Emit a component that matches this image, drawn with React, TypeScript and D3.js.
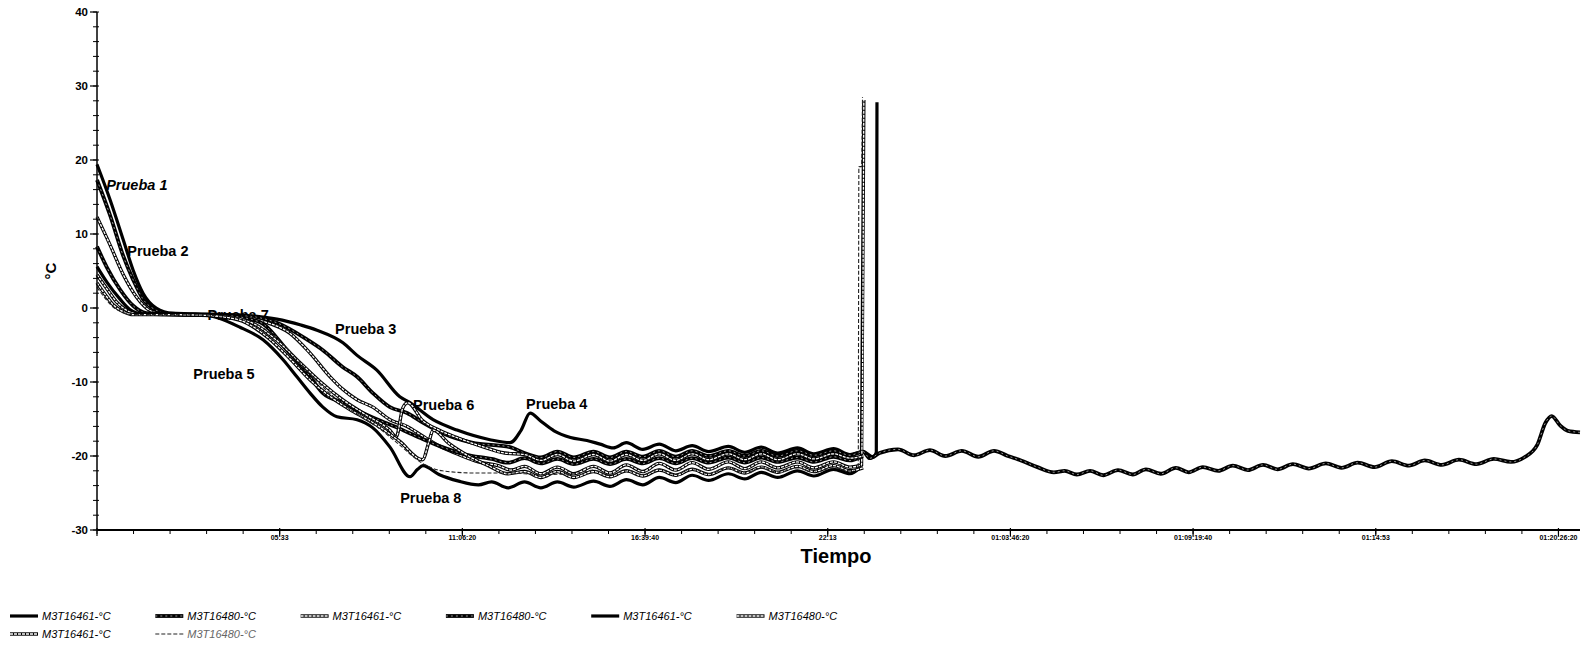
import React from "react";
import * as d3 from "d3";

// time in hours since start, temperature in °C
const prueba1 = [
  [0, 19.4], [0.4, 14.6], [0.8, 9.2], [1.1, 5.1], [1.4, 2.0], [1.8, 0.0], [2.3, -0.7], [3.0, -0.8],
  [4.0, -0.9], [4.8, -1.1], [5.47, -1.5], [6.2, -2.3], [6.69, -3.0], [7.48, -4.7], [7.91, -6.4],
  [8.51, -8.4], [9.21, -12.0], [9.52, -12.8], [10.22, -15.1], [10.95, -16.5], [11.95, -17.8],
  [12.56, -18.2], [12.9, -16.5], [13.17, -14.2], [13.5, -15.3], [13.9, -16.6], [14.4, -17.5],
  [14.9, -17.9], [15.3, -18.4], [15.7, -18.9], [16.1, -18.2], [16.6, -19.1], [17.1, -18.4],
  [17.6, -19.3], [18.1, -18.6], [18.6, -19.4], [19.2, -18.7], [19.7, -19.5], [20.2, -18.8],
  [20.7, -19.6], [21.3, -18.9], [21.8, -19.7], [22.4, -19.0], [22.9, -19.8], [23.3, -19.4],
  [23.6, -20.1], [23.7, -19.5], [23.72, 27.8],
];

const prueba2 = [
  [0, 17.3], [0.4, 12.5], [0.8, 7.0], [1.1, 3.8], [1.4, 1.2], [1.8, -0.3], [2.2, -0.8], [3.2, -0.9],
  [4.3, -1.0], [5.47, -2.0], [6.4, -4.3], [6.87, -5.7], [7.48, -8.0], [7.91, -9.3], [8.39, -11.5],
  [8.91, -13.4], [9.43, -14.2], [9.91, -15.5], [10.5, -16.9], [11.4, -18.2], [12.56, -18.8],
  [13.0, -19.6], [13.5, -20.2], [14.0, -19.4], [14.5, -20.2], [15.1, -19.4], [15.6, -20.2],
  [16.1, -19.4], [16.6, -20.1], [17.1, -19.3], [17.6, -20.1], [18.1, -19.3], [18.6, -20.0],
  [19.2, -19.3], [19.7, -20.0], [20.2, -19.3], [20.7, -20.0], [21.3, -19.3], [21.8, -19.9],
  [22.4, -19.3], [22.9, -19.9], [23.3, -19.4], [23.5, -20.3], [23.8, -19.6],
];

// the one sensor left in the freezer after the others were taken out
const tail = [
  [24.36, -19.1], [24.85, -19.9], [25.33, -19.2], [25.8, -20.0], [26.3, -19.3], [26.8, -20.1],
  [27.28, -19.3], [27.7, -20.0], [28.1, -20.6], [28.6, -21.5], [29.1, -22.2], [29.43, -22.0],
  [29.8, -22.5], [30.2, -22.0], [30.6, -22.6], [31.05, -21.9], [31.5, -22.5], [31.9, -21.8],
  [32.35, -22.4], [32.81, -21.6], [33.2, -22.2], [33.63, -21.5], [34.1, -22.0], [34.54, -21.3],
  [35.0, -21.9], [35.46, -21.2], [35.9, -21.8], [36.37, -21.1], [36.85, -21.7], [37.37, -21.0],
  [37.85, -21.6], [38.34, -20.9], [38.85, -21.5], [39.38, -20.7], [39.9, -21.3], [40.38, -20.6],
  [40.9, -21.2], [41.42, -20.5], [41.95, -21.1], [42.48, -20.4], [43.0, -20.8], [43.4, -20.2],
  [43.8, -18.5], [44.05, -15.5], [44.24, -14.6], [44.5, -15.9], [44.73, -16.6], [45.1, -16.8],
];

const prueba3 = [
  [0, 12.3], [0.4, 8.5], [0.8, 4.5], [1.2, 1.5], [1.6, -0.3], [2.0, -0.8], [3.0, -0.9], [4.0, -1.0],
  [5.05, -1.8], [5.86, -3.4], [6.48, -6.1], [7.09, -9.3], [7.48, -11.0], [7.91, -12.4], [8.39, -13.4],
  [8.91, -15.1], [9.43, -16.0], [9.9, -17.3], [10.4, -18.6], [11.0, -19.8], [11.6, -20.8],
  [12.2, -21.3], [12.6, -21.9], [13.0, -21.4], [13.5, -22.4], [14.0, -21.5], [14.5, -22.4],
  [15.1, -21.4], [15.6, -22.3], [16.1, -21.2], [16.6, -22.1], [17.1, -21.0], [17.6, -21.9],
  [18.1, -20.9], [18.6, -21.8], [19.2, -20.8], [19.7, -21.7], [20.2, -20.8], [20.7, -21.6],
  [21.3, -20.8], [21.8, -21.6], [22.4, -20.8], [22.9, -21.5], [23.25, -21.2], [23.32, 28.1],
];

const prueba4 = [
  [0, 8.3], [0.3, 5.5], [0.7, 2.5], [1.1, 0.3], [1.5, -0.7], [2.5, -0.9], [3.8, -1.0], [4.9, -1.8],
  [5.86, -6.1], [6.4, -8.8], [6.87, -11.5], [7.48, -12.8], [8.0, -14.0], [8.6, -15.2], [9.2, -16.3],
  [9.8, -17.5], [10.5, -18.8], [11.2, -19.8], [12.0, -20.4], [12.5, -20.9], [13.0, -20.3],
  [13.5, -21.0], [14.0, -20.4], [14.5, -21.1], [15.1, -20.4], [15.6, -21.1], [16.1, -20.4],
  [16.6, -21.0], [17.1, -20.3], [17.6, -21.0], [18.1, -20.3], [18.6, -20.9], [19.2, -20.2],
  [19.7, -20.9], [20.2, -20.2], [20.7, -20.8], [21.3, -20.2], [21.8, -20.8], [22.4, -20.1],
  [22.9, -20.6], [23.2, -20.2],
];

const prueba5 = [
  [0, 5.6], [0.3, 3.5], [0.7, 1.2], [1.0, -0.2], [1.4, -0.8], [2.3, -0.9], [3.14, -0.9], [4.35, -2.6],
  [5.05, -4.3], [5.66, -7.0], [6.08, -9.3], [6.48, -11.5], [6.87, -13.4], [7.3, -14.7], [7.91, -15.1],
  [8.39, -16.2], [8.91, -18.8], [9.52, -22.8], [9.75, -21.8], [9.91, -21.3], [10.4, -22.5],
  [11.0, -23.4], [11.6, -23.9], [12.0, -23.5], [12.5, -24.3], [13.0, -23.5], [13.5, -24.3],
  [14.0, -23.5], [14.5, -24.2], [15.1, -23.4], [15.6, -24.1], [16.1, -23.2], [16.6, -23.9],
  [17.1, -22.9], [17.6, -23.6], [18.1, -22.6], [18.6, -23.3], [19.2, -22.4], [19.7, -23.1],
  [20.2, -22.2], [20.7, -22.9], [21.3, -22.0], [21.8, -22.7], [22.4, -21.8], [22.9, -22.4],
  [23.2, -21.6],
];

const prueba6 = [
  [0, 4.5], [0.3, 2.6], [0.6, 0.8], [0.9, -0.3], [1.2, -0.8], [2.4, -0.9], [3.5, -1.0], [4.6, -1.8],
  [5.5, -4.5], [6.2, -7.5], [6.8, -10.0], [7.5, -12.5], [8.2, -14.5], [8.9, -16.5], [9.1, -17.4],
  [9.3, -13.5], [9.45, -12.8], [9.9, -15.2], [10.4, -16.5], [11.0, -17.6], [11.7, -18.7],
  [12.4, -19.6], [13.0, -19.8], [13.5, -20.6], [14.0, -19.8], [14.5, -20.7], [15.1, -19.8],
  [15.6, -20.7], [16.1, -19.8], [16.6, -20.6], [17.1, -19.7], [17.6, -20.6], [18.1, -19.7],
  [18.6, -20.5], [19.2, -19.7], [19.7, -20.5], [20.2, -19.7], [20.7, -20.5], [21.3, -19.7],
  [21.8, -20.4], [22.4, -19.7], [22.9, -20.3], [23.3, -20.0],
];

const prueba7 = [
  [0, 3.4], [0.25, 1.8], [0.5, 0.4], [0.8, -0.5], [1.1, -0.9], [2.2, -0.9], [3.3, -1.0], [4.3, -1.6],
  [5.2, -4.0], [5.9, -7.0], [6.5, -9.8], [7.1, -12.0], [7.8, -14.0], [8.5, -15.8], [9.2, -18.0],
  [9.9, -20.5], [10.1, -18.0], [10.22, -16.5], [10.7, -18.3], [11.3, -20.0], [11.9, -21.3],
  [12.5, -22.4], [13.0, -22.1], [13.5, -22.9], [14.0, -22.1], [14.5, -22.9], [15.1, -22.1],
  [15.6, -22.8], [16.1, -22.0], [16.6, -22.7], [17.1, -21.9], [17.6, -22.6], [18.1, -21.8],
  [18.6, -22.5], [19.2, -21.6], [19.7, -22.3], [20.2, -21.5], [20.7, -22.2], [21.3, -21.4],
  [21.8, -22.1], [22.4, -21.3], [22.9, -22.0], [23.3, -21.6],
];

const prueba8 = [
  [0, 2.8], [0.25, 1.3], [0.5, 0.1], [0.8, -0.6], [1.1, -0.9], [2.3, -0.9], [3.5, -1.0], [4.4, -1.4],
  [5.3, -3.5], [6.0, -6.5], [6.6, -9.5], [7.2, -12.0], [7.8, -14.0], [8.5, -16.0], [9.2, -18.5],
  [9.9, -21.0], [10.5, -22.0], [11.5, -22.3], [12.5, -22.3], [13.5, -22.5], [14.5, -22.4],
  [15.1, -21.9], [15.6, -22.6], [16.1, -21.9], [16.6, -22.5], [17.1, -21.8], [17.6, -22.5],
  [18.1, -21.7], [18.6, -22.4], [19.2, -21.6], [19.7, -22.3], [20.2, -21.6], [20.7, -22.2],
  [21.3, -21.6], [21.8, -22.2], [22.4, -21.6], [22.9, -22.0], [23.15, -21.5], [23.17, 19.1],
  [23.25, 19.1], [23.28, 28.5],
];

const sensorNames = [
  "M3T16461-°C", "M3T16480-°C", "M3T16461-°C", "M3T16480-°C",
  "M3T16461-°C", "M3T16480-°C", "M3T16461-°C", "M3T16480-°C",
];
const lineKinds = ["solid", "hollow", "outlined", "hollow", "solid", "outlined", "outlined", "dashed"];

const yTickValues = [40, 30, 20, 10, 0, -10, -20, -30];
const xTickLabels = ["", "05:33", "11:06:20", "16:39:40", "22:13", "01:03:46:20", "01:09:19:40", "01:14:53", "01:20:26:20"];
const tickStep = 5.5556; // hours between labelled ticks

const annotations = [
  { text: "Prueba 1", x: 0.28, y: 15.9, italic: true },
  { text: "Prueba 2", x: 0.92, y: 7.0 },
  { text: "Prueba 7", x: 3.36, y: -1.6 },
  { text: "Prueba 3", x: 7.24, y: -3.5 },
  { text: "Prueba 5", x: 2.93, y: -9.6 },
  { text: "Prueba 6", x: 9.61, y: -13.8 },
  { text: "Prueba 4", x: 13.05, y: -13.6 },
  { text: "Prueba 8", x: 9.22, y: -26.3 },
];

const FONT = "'Liberation Sans', Arial, sans-serif";
const W = 1583;
const H = 647;

const x = d3.scaleLinear().domain([0, 45.1]).range([97, 1580]);
const y = d3.scaleLinear().domain([-30, 40]).range([530, 12]);

const line = d3
  .line<number[]>()
  .x((d) => x(d[0]))
  .y((d) => y(d[1]))
  .curve(d3.curveMonotoneX);

const series = [prueba1, prueba2.concat(tail), prueba3, prueba4, prueba5, prueba6, prueba7, prueba8];

const Stroke = ({ d, kind }: { d: string; kind: string }) => {
  if (kind === "dashed") {
    return <path d={d} fill="none" stroke="#222" strokeWidth={1.1} strokeDasharray="4 2" />;
  }
  if (kind === "outlined") {
    return (
      <g>
        <path d={d} fill="none" stroke="#000" strokeWidth={3.4} />
        <path d={d} fill="none" stroke="#fff" strokeWidth={1.3} strokeDasharray="3 1" />
      </g>
    );
  }
  if (kind === "hollow") {
    return (
      <g>
        <path d={d} fill="none" stroke="#000" strokeWidth={3.8} />
        <path d={d} fill="none" stroke="#bbb" strokeWidth={0.8} strokeDasharray="2 3" />
      </g>
    );
  }
  return <path d={d} fill="none" stroke="#000" strokeWidth={3.2} />;
};

export default function App() {
  const majorTicks = d3.range(0, 9).map((i) => i * tickStep);
  const minorX = d3.range(0, 41).map((i) => (i * tickStep) / 5).filter((v) => v <= 45.1);
  const minorY = d3.range(-30, 41, 2);

  return (
    <svg
      width={W}
      height={H}
      style={{ position: "absolute", left: 0, top: 0, background: "#fff" }}
      fontFamily={FONT}
    >
      <rect width={W} height={H} fill="#fff" />

      {/* annotations sit beneath the curves */}
      {annotations.map((a, i) => (
        <text
          key={i}
          x={x(a.x)}
          y={y(a.y)}
          fontSize={14.5}
          fontWeight="bold"
          fontStyle={a.italic ? "italic" : "normal"}
          fill="#000"
        >
          {a.text}
        </text>
      ))}

      {series.map((s, i) => (
        <Stroke key={i} d={line(s as number[][]) || ""} kind={lineKinds[i]} />
      ))}

      {/* y axis */}
      <line x1={x(0)} x2={x(0)} y1={y(40)} y2={y(-30)} stroke="#000" strokeWidth={1.5} />
      {minorY.map((v) => (
        <line key={v} x1={x(0) - 4} x2={x(0) + 2} y1={y(v)} y2={y(v)} stroke="#000" strokeWidth={1} />
      ))}
      {yTickValues.map((v) => (
        <g key={v}>
          <line x1={x(0) - 7} x2={x(0)} y1={y(v)} y2={y(v)} stroke="#000" strokeWidth={1.2} />
          <text x={x(0) - 9} y={y(v) + 4} textAnchor="end" fontSize={11.5} fontWeight="bold">
            {v}
          </text>
        </g>
      ))}
      <text
        transform={`translate(56, ${y(5)}) rotate(-90)`}
        textAnchor="middle"
        fontSize={15}
        fontWeight="bold"
      >
        °C
      </text>

      {/* x axis */}
      <line x1={x(0)} x2={x(45.1)} y1={y(-30)} y2={y(-30)} stroke="#000" strokeWidth={2} />
      {minorX.map((v, i) => (
        <line key={i} x1={x(v)} x2={x(v)} y1={y(-30)} y2={y(-30) + 4} stroke="#000" strokeWidth={1} />
      ))}
      {majorTicks.map((v, i) => (
        <g key={i}>
          <line x1={x(v)} x2={x(v)} y1={y(-30) - 2} y2={y(-30) + 6} stroke="#000" strokeWidth={1.2} />
          <text x={x(v)} y={y(-30) + 10} textAnchor="middle" fontSize={7} fontWeight="bold">
            {xTickLabels[i]}
          </text>
        </g>
      ))}
      <text x={836} y={563} textAnchor="middle" fontSize={20} fontWeight="bold">
        Tiempo
      </text>

      {/* legend */}
      {sensorNames.map((name, i) => {
        const col = i % 6;
        const row = Math.floor(i / 6);
        const lx = 10 + col * 145.3;
        const ly = 620 + row * 18;
        return (
          <g key={i}>
            <Stroke d={`M${lx},${ly - 4}H${lx + 28}`} kind={lineKinds[i]} />
            <text x={lx + 32} y={ly} fontSize={11} fontStyle="italic" fill={i === 7 ? "#666" : "#000"}>
              {name}
            </text>
          </g>
        );
      })}
    </svg>
  );
}
